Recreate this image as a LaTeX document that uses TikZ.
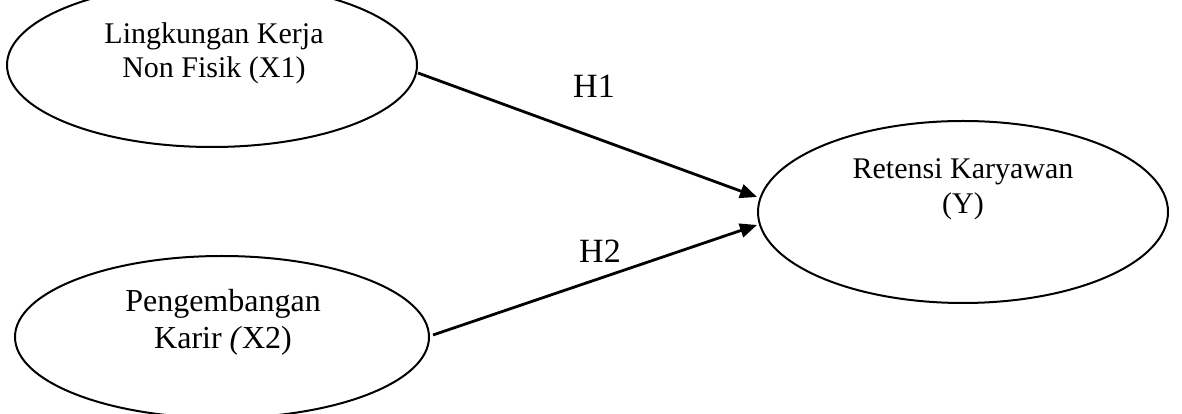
\documentclass[tikz,border=0pt]{standalone}
\usepackage{fontspec}
\setmainfont{Liberation Serif}
\usetikzlibrary{shapes.geometric,arrows.meta}
\begin{document}
\begin{tikzpicture}[x=1pt,y=1pt,
  ell/.style={draw,ellipse,line width=2pt,inner sep=0pt},
  lbl/.style={align=center,font=\fontsize{30}{34}\selectfont,inner sep=0pt},
  hyp/.style={font=\fontsize{34}{38}\selectfont,inner sep=0pt},
  conn/.style={line width=2.8pt,-{Triangle[length=17pt,width=14pt]}}]
\useasboundingbox (0,0) rectangle (1182,414);
\node[ell,minimum width=410pt,minimum height=164pt] (e1) at (212,349) {};
\node[ell,minimum width=414pt,minimum height=162pt] (e2) at (222,77) {};
\node[ell,minimum width=410pt,minimum height=182pt] (e3) at (963,202) {};
\node[lbl] (t1) at (214,361) {Lingkungan Kerja\\Non Fisik (X1)};
\node[lbl,font=\fontsize{32}{37}\selectfont] (t2) at (223,92) {Pengembangan\\Karir \textit{(}X2)};
\node[lbl,font=\fontsize{30}{35}\selectfont] (t3) at (963,225) {Retensi Karyawan\\(Y)};
\coordinate (a1s) at ([yshift=-8pt]e1.east);
\coordinate (a1e) at ([yshift=15pt]e3.west);
\coordinate (a2s) at ([xshift=3pt,yshift=2pt]e2.east);
\coordinate (a2e) at ([yshift=-13pt]e3.west);
\draw[conn] (a1s) -- (a1e);
\draw[conn] (a2s) -- (a2e);
\node[hyp] (h1) at (594,328) {H1};
\node[hyp] (h2) at (600,163) {H2};
\end{tikzpicture}
\end{document}
